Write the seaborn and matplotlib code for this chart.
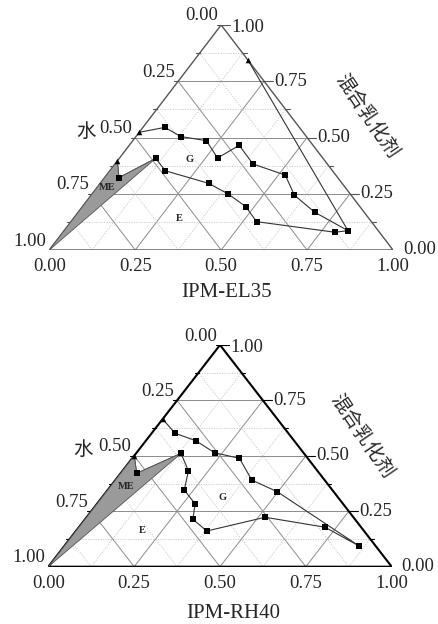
import numpy as np
import pandas as pd
import matplotlib
matplotlib.use("Agg")
import matplotlib.pyplot as plt
import seaborn as sns

sns.set_style("white")
plt.rcParams['font.family'] = ['Liberation Serif', 'Noto Sans CJK SC', 'DejaVu Sans']

tick_values = [0.0, 0.25, 0.5, 0.75, 1.0]
tick_labels = ["0.00", "0.25", "0.50", "0.75", "1.00"]

# IPM-EL35 panel (fractions of oil phase and mixed emulsifier, water = rest)
el35_upper_oil = [0.0, 0.064, 0.131, 0.214, 0.285, 0.320, 0.402, 0.520, 0.591, 0.688, 0.826, 0.156]
el35_upper_emu = [0.523, 0.545, 0.504, 0.486, 0.409, 0.465, 0.382, 0.333, 0.244, 0.168, 0.086, 0.844]
el35_lower_oil = [0.0, 0.042, 0.106, 0.162, 0.316, 0.396, 0.475, 0.540, 0.791, 0.826]
el35_lower_emu = [0.396, 0.321, 0.407, 0.352, 0.296, 0.249, 0.193, 0.126, 0.079, 0.086]
el35_me_oil = [0.0, 0.0, 0.042, 0.106]
el35_me_emu = [0.0, 0.396, 0.321, 0.407]

# IPM-RH40 panel
rh40_oil = [0.0, 0.068, 0.146, 0.227, 0.312, 0.397, 0.498, 0.859, 0.717, 0.520,
            0.381, 0.314, 0.286, 0.223, 0.192, 0.131, 0.047, 0.0]
rh40_emu = [0.666, 0.602, 0.568, 0.514, 0.489, 0.391, 0.338, 0.093, 0.178, 0.223,
            0.161, 0.214, 0.283, 0.346, 0.432, 0.511, 0.421, 0.500]
rh40_me_oil = [0.0, 0.0, 0.047, 0.131]
rh40_me_emu = [0.0, 0.500, 0.421, 0.511]


def to_xy(oil, emu):
    oil = np.asarray(oil, float)
    emu = np.asarray(emu, float)
    return oil + emu / 2, emu


def draw_frame(ax, wpx, hpx, edge_color, edge_lw):
    ax.set_xlim(0, 1)
    ax.set_ylim(0, 1)
    ax.axis('off')
    # grid lines
    for i in range(1, 8):
        v = i / 8
        major = i % 2 == 0
        kw = dict(color='#8c8c8c', lw=0.7, ls='-') if major else dict(color='#c8c8c8', lw=0.6, ls=(0, (1.5, 1.5)))
        ax.plot([v / 2, 1 - v / 2], [v, v], **kw)
        ax.plot([v, v + (1 - v) / 2], [0, 1 - v], **kw)
        ax.plot([1 - v, (1 - v) / 2], [0, 1 - v], **kw)
    ax.plot([0, 1, 0.5, 0], [0, 0, 1, 0], color=edge_color, lw=edge_lw, solid_joinstyle='miter')
    # ticks
    dx, dy = 1 / wpx, 1 / hpx
    for i in range(9):
        v = i / 8
        ln = 4
        ax.plot([v, v], [0, -ln * dy], color=edge_color, lw=0.8)
        ax.plot([v / 2, v / 2 - ln * dx], [v, v], color=edge_color, lw=0.8)
        rl = 9 if i % 2 == 0 else 4
        ax.plot([1 - v / 2, 1 - v / 2 + rl * dx], [v, v], color=edge_color, lw=0.8)
    # tick labels
    for v, lab in zip(tick_values, tick_labels):
        ax.annotate(lab, (v, 0), xytext=(0, -8), textcoords='offset pixels',
                    ha='center', va='top', fontsize=13.5)
        # water axis on the left edge
        ax.annotate(lab, ((1 - v) / 2, 1 - v), xytext=(-3, 9), textcoords='offset pixels',
                    ha='right', va='center', fontsize=13.5)
        # emulsifier axis on the right edge
        ax.annotate(lab, (1 - v / 2, v), xytext=(10, 0 if v < 1 else -2), textcoords='offset pixels',
                    ha='left', va='center', fontsize=13.5)


def draw_path(ax, oil, emu):
    x, y = to_xy(oil, emu)
    df = pd.DataFrame({'x': x, 'y': y, 'order': range(len(x))})
    sns.lineplot(data=df, x='x', y='y', sort=False, estimator=None, color='#333333',
                 lw=0.8, ax=ax, legend=False)
    water = 1 - np.asarray(oil) - np.asarray(emu)
    edge = (np.isclose(np.asarray(oil), 0)) | (np.isclose(water, 0, atol=0.005))
    sns.scatterplot(x=x[~edge], y=y[~edge], marker='s', s=22, color='black',
                    edgecolor='black', linewidth=0, ax=ax, zorder=5)
    sns.scatterplot(x=x[edge], y=y[edge], marker='^', s=16, color='black',
                    edgecolor='black', linewidth=0, ax=ax, zorder=5)


def draw_region(ax, oil, emu):
    x, y = to_xy(oil, emu)
    ax.fill(x, y, facecolor='#9a9a9a', edgecolor='#555555', lw=0.6, zorder=3)


fig = plt.figure(figsize=(4.38, 6.24), dpi=100)

# top panel
ax1 = fig.add_axes([49.3 / 438, 1 - 250 / 624, 343.7 / 438, 225 / 624])
draw_frame(ax1, 343.7, 225, '#555555', 1.0)
draw_region(ax1, el35_me_oil, el35_me_emu)
draw_path(ax1, el35_upper_oil, el35_upper_emu)
draw_path(ax1, el35_lower_oil, el35_lower_emu)
for lab, o, e in [('G', 0.209, 0.40), ('E', 0.306, 0.142), ('ME', 0.03, 0.276)]:
    x, y = to_xy(o, e)
    ax1.text(x, y, lab, ha='center', va='center', fontsize=7.5, fontweight='bold', zorder=6)
ax1.text(0.107, 0.524, '水', ha='center', va='center', fontsize=14)
ax1.text(0.923, 0.592, '混合乳化剂', ha='center', va='center', fontsize=14, rotation=-56)
ax1.text(0.517, -0.191, 'IPM-EL35', ha='center', va='center', fontsize=15)

# bottom panel
ax2 = fig.add_axes([48.3 / 438, 1 - 566.7 / 624, 343.4 / 438, 221.7 / 624])
draw_frame(ax2, 343.4, 221.7, 'black', 1.5)
draw_region(ax2, rh40_me_oil, rh40_me_emu)
draw_path(ax2, rh40_oil, rh40_emu)
for lab, o, e in [('G', 0.3515, 0.313), ('E', 0.192, 0.1655), ('ME', 0.044, 0.364)]:
    x, y = to_xy(o, e)
    ax2.text(x, y, lab, ha='center', va='center', fontsize=7.5, fontweight='bold', zorder=6)
ax2.text(0.101, 0.526, '水', ha='center', va='center', fontsize=14)
ax2.text(0.913, 0.586, '混合乳化剂', ha='center', va='center', fontsize=14, rotation=-56)
ax2.text(0.538, -0.209, 'IPM-RH40', ha='center', va='center', fontsize=15)

fig.savefig('out.png', dpi=100, facecolor='white')
